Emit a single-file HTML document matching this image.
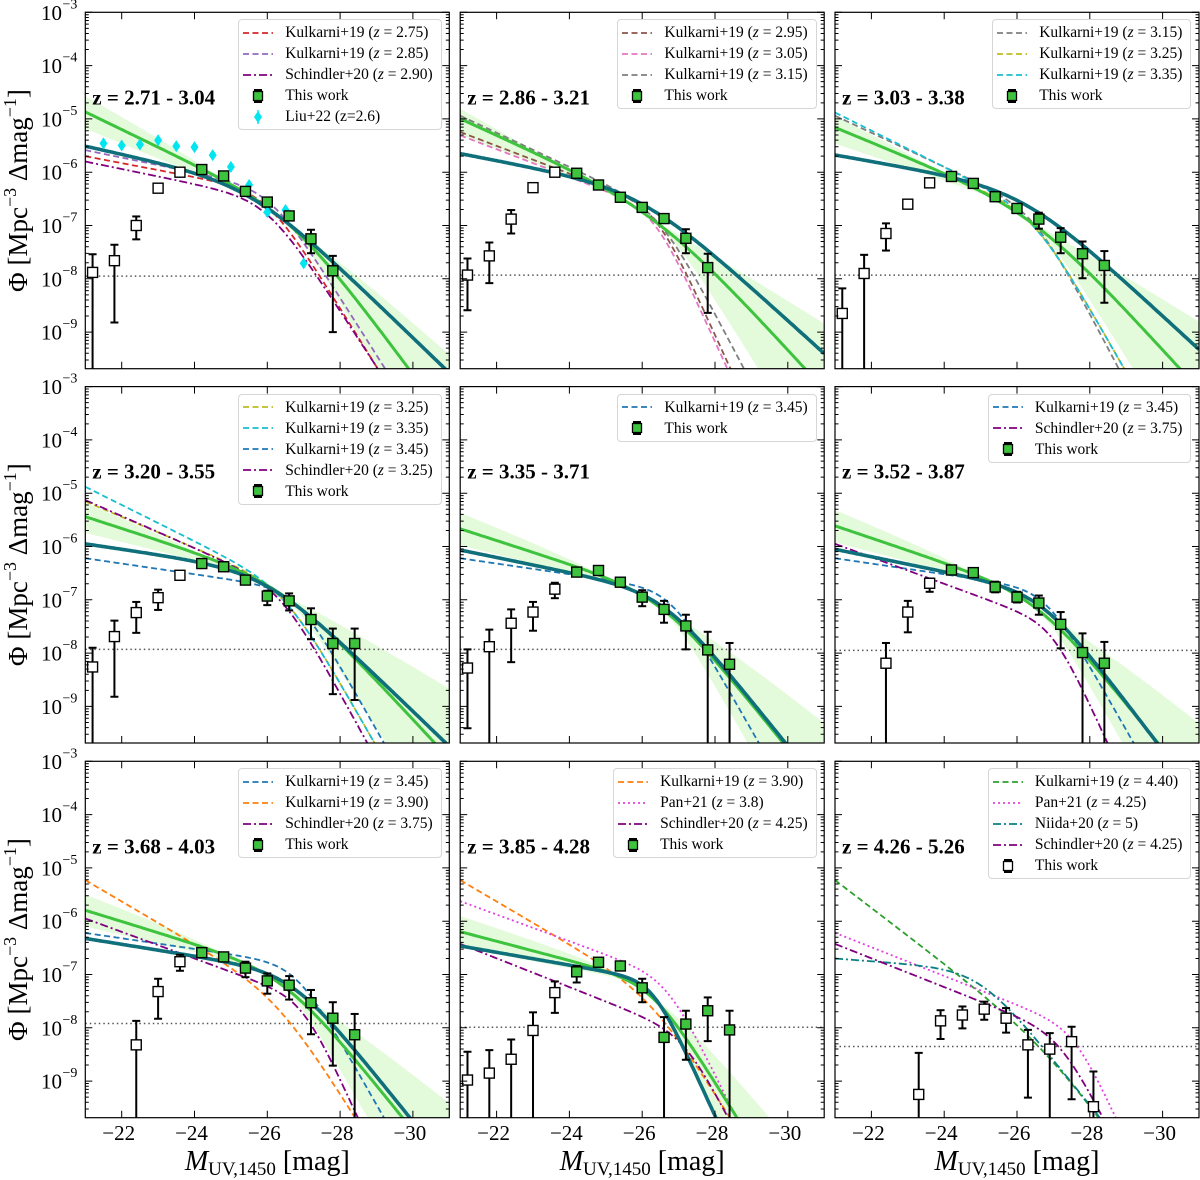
<!DOCTYPE html>
<html><head><meta charset="utf-8">
<style>
html,body{margin:0;padding:0;width:1200px;height:1180px;overflow:hidden}
body{background:#fff;position:relative;font-family:"Liberation Serif",serif}
#chart{position:absolute;left:0;top:0;display:block}
.legend{position:absolute;border:1px solid #d6d6d6;border-radius:4px;background:rgba(255,255,255,.85);padding:2px 8px 2px 4px;font-size:15.5px;line-height:21px;white-space:nowrap;color:#000}
.legend .row{display:flex;align-items:center;height:21px}
.legend .row svg{margin-right:12px;flex:none}
</style></head>
<body>
<svg id="chart" width="1200" height="1180" font-family="Liberation Serif, serif">
<defs id="defs"></defs>
<text transform="translate(27,190.5) rotate(-90)" text-anchor="middle" font-size="27">Φ [Mpc<tspan font-size="18" dy="-11">−3</tspan><tspan dy="11"> Δmag</tspan><tspan font-size="18" dy="-11">−1</tspan><tspan dy="11">]</tspan></text>
<text transform="translate(27,564.7) rotate(-90)" text-anchor="middle" font-size="27">Φ [Mpc<tspan font-size="18" dy="-11">−3</tspan><tspan dy="11"> Δmag</tspan><tspan font-size="18" dy="-11">−1</tspan><tspan dy="11">]</tspan></text>
<text transform="translate(27,939.5) rotate(-90)" text-anchor="middle" font-size="27">Φ [Mpc<tspan font-size="18" dy="-11">−3</tspan><tspan dy="11"> Δmag</tspan><tspan font-size="18" dy="-11">−1</tspan><tspan dy="11">]</tspan></text>
<text x="267.3" y="1170" text-anchor="middle" font-size="28"><tspan font-style="italic">M</tspan><tspan font-size="19" dy="5">UV,1450</tspan><tspan dy="-5"> [mag]</tspan></text>
<text x="642.2" y="1170" text-anchor="middle" font-size="28"><tspan font-style="italic">M</tspan><tspan font-size="19" dy="5">UV,1450</tspan><tspan dy="-5"> [mag]</tspan></text>
<text x="1017" y="1170" text-anchor="middle" font-size="28"><tspan font-style="italic">M</tspan><tspan font-size="19" dy="5">UV,1450</tspan><tspan dy="-5"> [mag]</tspan></text>
</svg>
<script>
// ---------- data: binned luminosity function (log10 Phi) ----------
const magsP1=[-21.2,-21.8,-22.4,-23.0,-23.6,-24.2,-24.8,-25.4,-26.0,-26.6,-27.2,-27.8];
const phiP1=[-7.88,-7.66,-7.0,-6.30,-6.0,-5.95,-6.07,-6.36,-6.56,-6.82,-7.25,-7.85];
const hiP1=[-7.54,-7.36,-6.83,-6.25,-5.96,-5.91,-6.03,-6.32,-6.51,-6.75,-7.08,-7.57];
const loP1=[-12,-8.82,-7.26,-6.35,-6.04,-5.99,-6.11,-6.40,-6.61,-6.89,-7.52,-9.0];
const magsP2=[-21.2,-21.8,-22.4,-23.0,-23.6,-24.2,-24.8,-25.4,-26.0,-26.6,-27.2,-27.8];
const phiP2=[-7.93,-7.57,-6.88,-6.29,-6.0,-6.02,-6.24,-6.47,-6.66,-6.87,-7.24,-7.79];
const hiP2=[-7.62,-7.32,-6.71,-6.24,-5.96,-5.98,-6.2,-6.43,-6.61,-6.82,-7.07,-7.53];
const loP2=[-8.59,-8.08,-7.15,-6.34,-6.04,-6.06,-6.28,-6.51,-6.71,-6.92,-7.52,-8.64];
const magsP3=[-21.2,-21.8,-22.4,-23.0,-23.6,-24.2,-24.8,-25.4,-26.0,-26.6,-27.2,-27.8,-28.4];
const phiP3=[-8.65,-7.90,-7.15,-6.60,-6.20,-6.08,-6.21,-6.46,-6.68,-6.88,-7.22,-7.53,-7.75];
const hiP3=[-8.18,-7.55,-6.96,-6.54,-6.16,-6.04,-6.17,-6.42,-6.62,-6.76,-7.05,-7.30,-7.48];
const loP3=[-12,-12,-7.47,-6.66,-6.24,-6.12,-6.25,-6.50,-6.74,-7.06,-7.52,-7.99,-8.45];
const magsP4=[-21.2,-21.8,-22.4,-23.0,-23.6,-24.2,-24.8,-25.4,-26.0,-26.6,-27.2,-27.8,-28.4];
const phiP4=[-8.26,-7.69,-7.24,-6.96,-6.54,-6.32,-6.38,-6.63,-6.93,-7.02,-7.37,-7.82,-7.82];
const hiP4=[-7.90,-7.39,-7.04,-6.81,-6.46,-6.27,-6.33,-6.57,-6.83,-6.88,-7.16,-7.54,-7.54];
const loP4=[-12,-8.82,-7.62,-7.19,-6.62,-6.37,-6.43,-6.69,-7.10,-7.20,-7.74,-8.77,-8.88];
const magsP5=[-21.2,-21.8,-22.4,-23.0,-23.6,-24.2,-24.8,-25.4,-26.0,-26.6,-27.2,-27.8,-28.4];
const phiP5=[-8.28,-7.88,-7.44,-7.23,-6.80,-6.48,-6.45,-6.67,-6.95,-7.18,-7.49,-7.94,-8.21];
const hiP5=[-7.93,-7.56,-7.18,-7.04,-6.68,-6.43,-6.40,-6.62,-6.82,-7.02,-7.28,-7.60,-7.81];
const loP5=[-9.41,-12,-8.17,-7.58,-6.97,-6.53,-6.50,-6.72,-7.12,-7.43,-7.93,-12,-12];
const magsP6=[-22.4,-23.0,-23.6,-24.2,-24.8,-25.4,-26.0,-26.6,-27.2,-27.8,-28.4];
const phiP6=[-8.19,-7.23,-6.69,-6.44,-6.49,-6.76,-6.95,-7.06,-7.46,-7.99,-8.19];
const hiP6=[-7.81,-7.02,-6.60,-6.40,-6.45,-6.66,-6.85,-6.92,-7.23,-7.63,-7.79];
const loP6=[-12,-7.61,-6.85,-6.48,-6.53,-6.86,-7.05,-7.28,-7.91,-12,-12];
const magsP7=[-22.4,-23.0,-23.6,-24.2,-24.8,-25.4,-26.0,-26.6,-27.2,-27.8,-28.4];
const phiP7=[-8.32,-7.32,-6.76,-6.59,-6.67,-6.88,-7.12,-7.20,-7.53,-7.82,-8.13];
const hiP7=[-7.87,-7.08,-6.63,-6.52,-6.60,-6.76,-6.98,-7.03,-7.29,-7.52,-7.74];
const loP7=[-12,-7.83,-6.93,-6.66,-6.74,-7.05,-7.36,-7.47,-8.12,-8.71,-12];
const magsP8=[-21.2,-21.8,-22.4,-23.0,-23.6,-24.2,-24.8,-25.4,-26.0,-26.6,-27.2,-27.8,-28.4];
const phiP8=[-8.98,-8.85,-8.59,-8.05,-7.34,-6.95,-6.77,-6.84,-7.25,-8.18,-7.93,-7.68,-8.04];
const hiP8=[-8.45,-8.42,-8.22,-7.71,-7.13,-6.84,-6.71,-6.78,-7.08,-7.80,-7.68,-7.43,-7.68];
const loP8=[-12,-12,-12,-12,-7.72,-7.15,-6.83,-6.90,-7.52,-12,-8.6,-8.25,-12];
const magsP9=[-23.3,-23.9,-24.5,-25.1,-25.7,-26.3,-26.9,-27.5,-28.1];
const phiP9=[-9.25,-7.87,-7.76,-7.65,-7.82,-8.32,-8.40,-8.26,-9.48];
const hiP9=[-8.47,-7.67,-7.60,-7.51,-7.63,-8.04,-8.10,-7.98,-8.82];
const loP9=[-12,-8.21,-8.01,-7.85,-8.09,-9.31,-12,-9.34,-12];
const openCounts=[5,5,5,5,5,3,3,5,9];
const limitLines=[-7.95,-7.93,-7.93,-7.93,-7.93,-7.95,-7.92,-7.99,-8.35];
const zLabels=["z = 2.71 - 3.04","z = 2.86 - 3.21","z = 3.03 - 3.38","z = 3.20 - 3.55","z = 3.35 - 3.71","z = 3.52 - 3.87","z = 3.68 - 4.03","z = 3.85 - 4.28","z = 4.26 - 5.26"];
const magsLiu=[-21.5,-22.0,-22.5,-23.0,-23.5,-24.0,-24.5,-25.0,-25.5,-26.0,-26.5,-27.0];
const phiLiu=[-5.46,-5.50,-5.48,-5.40,-5.51,-5.53,-5.68,-5.90,-6.24,-6.75,-6.71,-7.71];
// ---------- model parameters [M*, log phi*, faint slope, bright slope] ----------
const tealP1=[-25.6,-6.2,0.15,0.66], greenP1=[-26.7,-6.75,0.33,0.92];
const tealP2=[-26.0,-6.3,0.13,0.62], greenP2=[-26.5,-6.7,0.31,0.75];
const tealP3=[-26.2,-6.3,0.12,0.63], greenP3=[-26.5,-6.7,0.28,0.75];
const tealP4=[-26.0,-6.45,0.10,0.66], greenP4=[-26.5,-6.65,0.22,0.74];
const tealP5=[-26.6,-6.85,0.14,0.85], greenP5=[-26.6,-6.9,0.22,0.85];
const tealP6=[-26.7,-6.85,0.14,0.9], greenP6=[-26.6,-6.9,0.23,0.85];
const tealP7=[-26.7,-6.95,0.11,0.85], greenP7=[-26.5,-6.95,0.21,0.85];
const tealP8=[-26.3,-7.1,0.12,1.5], greenP8=[-26.3,-7.15,0.18,1.1];
const kulk275=[-26.0,-6.35,0.13,1.1], kulk285=[-26.1,-6.3,0.14,1.08], schin290=[-26.0,-6.5,0.14,1.05];
const kulk295=[-26.4,-6.65,0.26,1.5], kulk305=[-26.35,-6.7,0.26,1.5], kulk315=[-26.5,-6.7,0.32,1.3];
const kulk325=[-26.5,-6.75,0.29,1.2], kulk335=[-26.5,-6.75,0.34,1.2], kulk345=[-26.8,-6.8,0.10,1.2];
const schin325=[-26.4,-6.75,0.30,1.25], schin375=[-27.0,-7.45,0.25,1.5], kulk390=[-26.3,-7.35,0.40,1.1];
const pan38=[-26.7,-7.05,0.25,1.4], schin425=[-27.2,-8.1,0.27,1.35], kulk440=[-27.0,-8.35,0.52,1.0];
const pan425=[-27.6,-8.0,0.27,1.5], niida5=[-25.0,-6.9,0.05,0.85];

const C={red:'#d62728',mpurple:'#9467bd',purple:'#800080',brown:'#8c564b',pink:'#e377c2',gray:'#7f7f7f',olive:'#bcbd22',cyan:'#17becf',blue:'#1f77b4',orange:'#ff7f0e',dgreen:'#2ca02c',magenta:'#e040e0',niida:'#0a8080'};
const DASH='6 3.5', DASHDOT='8 3 2 3', DOT='2 3';
const S=(c,d,label)=>({c:c,d:d,label:label});
const refsByPanel=[
 [[kulk275,S(C.red,DASH,'Kulkarni+19 (<i>z</i> = 2.75)')],[kulk285,S(C.mpurple,DASH,'Kulkarni+19 (<i>z</i> = 2.85)')],[schin290,S(C.purple,DASHDOT,'Schindler+20 (<i>z</i> = 2.90)')]],
 [[kulk295,S(C.brown,DASH,'Kulkarni+19 (<i>z</i> = 2.95)')],[kulk305,S(C.pink,DASH,'Kulkarni+19 (<i>z</i> = 3.05)')],[kulk315,S(C.gray,DASH,'Kulkarni+19 (<i>z</i> = 3.15)')]],
 [[kulk315,S(C.gray,DASH,'Kulkarni+19 (<i>z</i> = 3.15)')],[kulk325,S(C.olive,DASH,'Kulkarni+19 (<i>z</i> = 3.25)')],[kulk335,S(C.cyan,DASH,'Kulkarni+19 (<i>z</i> = 3.35)')]],
 [[kulk325,S(C.olive,DASH,'Kulkarni+19 (<i>z</i> = 3.25)')],[kulk335,S(C.cyan,DASH,'Kulkarni+19 (<i>z</i> = 3.35)')],[kulk345,S(C.blue,DASH,'Kulkarni+19 (<i>z</i> = 3.45)')],[schin325,S(C.purple,DASHDOT,'Schindler+20 (<i>z</i> = 3.25)')]],
 [[kulk345,S(C.blue,DASH,'Kulkarni+19 (<i>z</i> = 3.45)')]],
 [[kulk345,S(C.blue,DASH,'Kulkarni+19 (<i>z</i> = 3.45)')],[schin375,S(C.purple,DASHDOT,'Schindler+20 (<i>z</i> = 3.75)')]],
 [[kulk345,S(C.blue,DASH,'Kulkarni+19 (<i>z</i> = 3.45)')],[kulk390,S(C.orange,DASH,'Kulkarni+19 (<i>z</i> = 3.90)')],[schin375,S(C.purple,DASHDOT,'Schindler+20 (<i>z</i> = 3.75)')]],
 [[kulk390,S(C.orange,DASH,'Kulkarni+19 (<i>z</i> = 3.90)')],[pan38,S(C.magenta,DOT,'Pan+21 (<i>z</i> = 3.8)')],[schin425,S(C.purple,DASHDOT,'Schindler+20 (<i>z</i> = 4.25)')]],
 [[kulk440,S(C.dgreen,DASH,'Kulkarni+19 (<i>z</i> = 4.40)')],[pan425,S(C.magenta,DOT,'Pan+21 (<i>z</i> = 4.25)')],[niida5,S(C.niida,DASHDOT,'Niida+20 (<i>z</i> = 5)')],[schin425,S(C.purple,DASHDOT,'Schindler+20 (<i>z</i> = 4.25)')]]
];
const panels=[
 {m:magsP1,p:phiP1,h:hiP1,l:loP1,t:tealP1,g:greenP1},
 {m:magsP2,p:phiP2,h:hiP2,l:loP2,t:tealP2,g:greenP2},
 {m:magsP3,p:phiP3,h:hiP3,l:loP3,t:tealP3,g:greenP3},
 {m:magsP4,p:phiP4,h:hiP4,l:loP4,t:tealP4,g:greenP4},
 {m:magsP5,p:phiP5,h:hiP5,l:loP5,t:tealP5,g:greenP5},
 {m:magsP6,p:phiP6,h:hiP6,l:loP6,t:tealP6,g:greenP6},
 {m:magsP7,p:phiP7,h:hiP7,l:loP7,t:tealP7,g:greenP7},
 {m:magsP8,p:phiP8,h:hiP8,l:loP8,t:tealP8,g:greenP8},
 {m:magsP9,p:phiP9,h:hiP9,l:loP9,t:null,g:null}
];

// ---------- layout / axes ----------
const W=364.0,H=356.4,DEC=H/53.3;
const colLeft=[85.3,460.2,835.0], rowTop=[12.3,386.6,761.3];
const NS='http://www.w3.org/2000/svg';
const svg=document.getElementById('chart');
const defs=document.getElementById('defs');
function mk(tag,attrs,parent){const e=document.createElementNS(NS,tag);for(const k in attrs)e.setAttribute(k,attrs[k]);(parent||svg).appendChild(e);return e;}
function X(p,M){return colLeft[p%3]+(-21-M)/10*W;}
function Y(p,L){return rowTop[Math.floor(p/3)]+(-3-L)/DEC*H;}
function dpl(q,M){const d=M-q[0];return q[1]-Math.log10(Math.pow(10,-q[2]*d)+Math.pow(10,-q[3]*d));}
function pts(p,q){const a=[];const yMax=rowTop[Math.floor(p/3)]+H+40;for(let M=-21;M>=-31.001;M-=0.05){a.push([X(p,M),Math.min(Y(p,dpl(q,M)),yMax)]);}return a;}
function pathOf(a){return a.map((v,i)=>(i?'L':'M')+v[0].toFixed(1)+','+v[1].toFixed(1)).join('');}

for(let p=0;p<9;p++){
 const L=colLeft[p%3],T=rowTop[Math.floor(p/3)],P=panels[p];
 const cp=mk('clipPath',{id:'clip'+p},defs);
 mk('rect',{x:L,y:T,width:W,height:H},cp);
 const g=mk('g',{});
 
 
 const gc=mk('g',{'clip-path':'url(#clip'+p+')'},g);
 if(P.g){
  const up=[P.g[0],P.g[1]+0.03,P.g[2]+0.05,Math.max(P.g[3]-0.3,0.3)];
  const lo=[P.g[0],P.g[1]-0.03,Math.max(P.g[2]-0.05,0.02),P.g[3]+0.35];
  const band=mk('path',{d:pathOf(pts(p,up).concat(pts(p,lo).reverse()))+'Z',fill:'#e4fbdb',stroke:'none'},gc);
  
  
 }
 const lim=mk('line',{x1:L,x2:L+W,y1:Y(p,limitLines[p]),y2:Y(p,limitLines[p]),stroke:'#555',"stroke-width":1.5,"stroke-dasharray":'1.5 3'},gc);
 
 
 refsByPanel[p].forEach(r=>{
  const c=mk('path',{d:pathOf(pts(p,r[0])),fill:'none',stroke:r[1].c,'stroke-width':1.8,'stroke-dasharray':r[1].d},gc);
  
  
 });
 if(P.g){
  const gr=mk('path',{d:pathOf(pts(p,P.g)),fill:'none',stroke:'#3ec33e','stroke-width':3},gc);
  
  
  const tl=mk('path',{d:pathOf(pts(p,P.t)),fill:'none',stroke:'#0f6f7a','stroke-width':3.6},gc);
  
  
 }
 if(p===0){
  magsLiu.forEach((m,i)=>{
   const x=X(p,m),y=Y(p,phiLiu[i]);
   mk('line',{x1:x,x2:x,y1:y-5,y2:y+5,stroke:'#00e5ee','stroke-width':1.5},gc);
   const dm=mk('path',{d:`M${x},${y-6}L${x+4},${y}L${x},${y+6}L${x-4},${y}Z`,fill:'#00e5ee'},gc);
   
   
  });
 }
 P.m.forEach((m,i)=>{
  const x=X(p,m),y=Y(p,P.p[i]),yt=Y(p,P.h[i]),yb=Math.min(Y(p,P.l[i]),T+H+5);
  const eb=mk('line',{x1:x,x2:x,y1:yt,y2:yb,stroke:'#000','stroke-width':2},gc);
  
  
  mk('line',{x1:x-4,x2:x+4,y1:yt,y2:yt,stroke:'#000','stroke-width':2},gc);
  if(yb<T+H)mk('line',{x1:x-4,x2:x+4,y1:yb,y2:yb,stroke:'#000','stroke-width':2},gc);
  const open=i<openCounts[p];
  const sq=mk('rect',{x:x-5,y:y-5,width:10,height:10,fill:open?'#fff':'#3ec33e',stroke:'#000','stroke-width':1.4},gc);
  
  
 });
 const fr=mk('rect',{x:L,y:T,width:W,height:H,fill:'none',stroke:'#000','stroke-width':1.2},g);
 
 
 let td='';
 for(let e=-3;e>=-9;e--){const y=Y(p,e);td+=`M${L},${y}h7M${L+W},${y}h-7`;}
 for(let e=-4;e>=-10;e--)for(let k=2;k<=9;k++){const v=e+Math.log10(k);if(v<-3&&v>-9.68){const y=Y(p,v);td+=`M${L},${y}h3.5M${L+W},${y}h-3.5`;}}
 for(let M=-22;M>=-30;M-=2){const x=X(p,M);td+=`M${x},${T+H}v-7M${x},${T}v7`;}
 const tk=mk('path',{d:td,stroke:'#000','stroke-width':1,fill:'none'},g);
 
 
 const zl=mk('text',{x:L+7,y:T+92,'font-size':21,'font-weight':'bold'},g);
 zl.textContent=zLabels[p];
 
 
 if(p%3===0){
  for(let e=-3;e>=-9;e--){
   const y=Y(p,e);
   const t=mk('text',{x:62,y:y+7.5,'font-size':21,'text-anchor':'end'},g);
   t.textContent='10';
   
   
   const s=mk('text',{x:62.5,y:y-4,'font-size':14},g);
   s.textContent='−'+(-e);
   
   
  }
 }
 if(p>=6){
  for(let M=-22;M>=-30;M-=2){
   const t=mk('text',{x:X(p,M)-3,y:1140,'font-size':21,'text-anchor':'middle'},g);
   t.textContent='−'+(-M);
   
   
  }
 }
 const lg=document.createElement('div');
 lg.className='legend';
 
 
 lg.style.right=(1200-(L+W)+7.6)+'px';
 lg.style.top=(T+7)+'px';
 const items=refsByPanel[p].map(r=>({kind:'line',c:r[1].c,d:r[1].d,label:r[1].label}));
 items.push({kind:p===8?'open':'green',label:'This work'});
 if(p===0)items.push({kind:'liu',label:'Liu+22 (z=2.6)'});
 items.forEach(it=>{
  const row=document.createElement('div');
  row.className='row';
  
  
  let s='';
  if(it.kind==='line')s=`<line x1="0" x2="30" y1="7" y2="7" stroke="${it.c}" stroke-width="1.8" stroke-dasharray="${it.d}"/>`;
  else if(it.kind==='liu')s=`<line x1="15" x2="15" y1="0" y2="14" stroke="#00e5ee" stroke-width="1.5"/><path d="M15,1L19,7L15,13L11,7Z" fill="#00e5ee"/>`;
  else s=`<line x1="15" x2="15" y1="0" y2="14" stroke="#000" stroke-width="2"/><line x1="11" x2="19" y1="1" y2="1" stroke="#000" stroke-width="2"/><line x1="11" x2="19" y1="13" y2="13" stroke="#000" stroke-width="2"/><rect x="10.5" y="2.5" width="9" height="9" fill="${it.kind==='open'?'#fff':'#3ec33e'}" stroke="#000" stroke-width="1.3"/>`;
  row.innerHTML=`<svg width="30" height="14">${s}</svg><span>${it.label}</span>`;
  lg.appendChild(row);
 });
 document.body.appendChild(lg);
}
</script>
</body></html>
